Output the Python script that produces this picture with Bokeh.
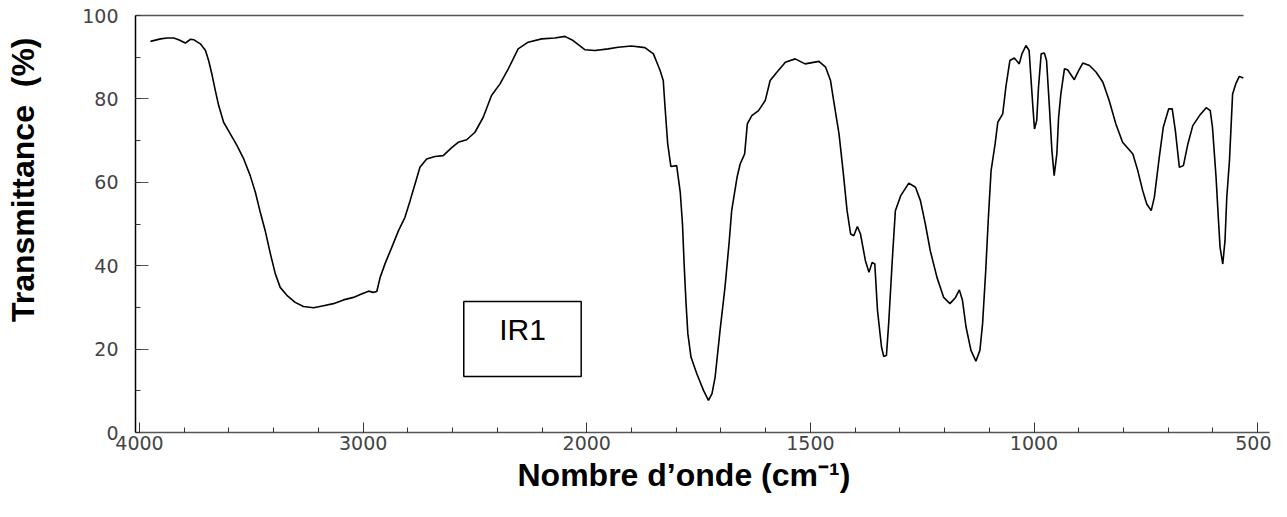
import numpy as np
from bokeh.plotting import figure
from bokeh.models import Range1d, LinearAxis, FixedTicker, Label, BoxAnnotation, Title
from bokeh.embed import file_html
from bokeh.resources import INLINE

# ---- data ----
wavenumber = [
    3951, 3906, 3876, 3847, 3825, 3795, 3772, 3758, 3728, 3705, 3691, 3675, 3661, 3646,
    3624, 3594, 3564, 3534, 3505, 3482, 3460, 3438, 3415, 3393, 3371, 3341, 3304, 3267,
    3222, 3177, 3133, 3088, 3043, 3013, 2976, 2955, 2939, 2924, 2902, 2872, 2842, 2813,
    2790, 2768, 2746, 2716, 2679, 2642, 2604, 2575, 2537, 2500, 2463, 2426, 2388, 2351,
    2307, 2262, 2202, 2143, 2098, 2061, 2009, 1982, 1952, 1930, 1900, 1870, 1851, 1836,
    1829, 1825, 1819, 1812, 1799, 1791, 1786, 1782, 1778, 1774, 1767, 1754, 1739, 1728,
    1720, 1713, 1702, 1691, 1682, 1676, 1664, 1657, 1647, 1641, 1631, 1616, 1601, 1590,
    1575, 1556, 1534, 1512, 1481, 1466, 1455, 1448, 1436, 1427, 1418, 1410, 1403, 1395,
    1388, 1377, 1369, 1362, 1356, 1350, 1341, 1336, 1330, 1325, 1317, 1310, 1298, 1280,
    1265, 1254, 1243, 1232, 1217, 1202, 1188, 1176, 1167, 1160, 1152, 1141, 1130, 1121,
    1115, 1108, 1102, 1096, 1087, 1081, 1070, 1063, 1054, 1044, 1033, 1027, 1018, 1011,
    1007, 1003, 999, 994, 990, 984, 977, 972, 966, 960, 955, 949, 945, 940, 932, 925,
    910, 902, 891, 876, 861, 846, 832, 817, 802, 779, 768, 757, 748, 738, 731, 720, 711,
    699, 691, 684, 675, 666, 656, 645, 630, 615, 606, 601, 593, 588, 584, 578, 573, 569,
    563, 556, 549, 541, 532,
]
transmittance = [
    93.8, 94.4, 94.6, 94.6, 94.2, 93.4, 94.3, 94.2, 93.2, 91.6, 89.2, 85.6, 82.0, 78.4,
    74.4, 71.6, 68.8, 65.6, 61.6, 57.6, 52.8, 48.4, 42.9, 38.1, 34.8, 32.9, 31.2, 30.2,
    29.9, 30.4, 30.9, 31.8, 32.4, 33.1, 33.9, 33.6, 33.8, 37.2, 40.5, 44.4, 48.4, 51.6,
    55.6, 59.6, 63.6, 65.6, 66.2, 66.4, 68.3, 69.6, 70.2, 72.0, 75.6, 80.8, 83.6, 87.2,
    92.0, 93.6, 94.4, 94.6, 95.0, 94.0, 91.8, 91.6, 92.0, 92.4, 92.7, 92.3, 90.8, 86.8,
    84.4, 78.0, 69.2, 63.8, 64.0, 57.6, 50.0, 39.6, 30.9, 23.7, 18.1, 14.1, 10.1, 7.7,
    9.3, 13.3, 24.5, 34.8, 45.2, 53.2, 61.2, 64.4, 66.8, 74.0, 76.0, 77.2, 79.6, 84.4,
    86.4, 88.8, 89.6, 88.4, 89.0, 87.6, 84.4, 79.6, 71.6, 62.8, 53.2, 47.6, 47.2, 49.4,
    47.6, 41.2, 38.4, 40.8, 40.4, 29.3, 20.5, 18.2, 18.5, 26.1, 41.2, 53.2, 56.8, 59.8,
    58.8, 55.6, 50.0, 43.6, 37.2, 32.4, 30.9, 32.3, 34.2, 31.7, 25.3, 19.7, 17.1, 19.7,
    26.1, 38.8, 51.6, 62.8, 69.2, 74.4, 76.4, 82.8, 89.2, 89.8, 88.4, 90.8, 92.8, 91.6,
    85.2, 78.8, 72.8, 74.8, 82.8, 90.8, 91.0, 89.2, 78.8, 67.6, 61.6, 66.8, 75.6, 81.2, 87.2, 87.0,
    84.6, 86.4, 88.6, 88.0, 86.4, 84.0, 79.6, 74.0, 69.6, 66.8, 62.8, 58.0, 54.8, 53.2, 56.4, 66.0, 73.2,
    77.6, 77.6, 72.4, 63.6, 64.0, 69.2, 73.6, 76.0, 77.9, 77.2, 73.2, 61.2, 51.6, 44.4, 40.4, 46.0, 56.4,
    65.2, 81.2, 83.6, 85.4, 85.0,
]
x_tick_labels = [4000, 3000, 2000, 1500, 1000, 500]
x_minor_ticks = list(range(4000, 2000, -200)) + list(range(2000, 499, -100))
y_tick_values = [0, 20, 40, 60, 80, 100]
y_minor_ticks = list(range(0, 101, 10))
x_title = "Nombre d\u2019onde (cm\u207b\u00b9)"
y_title = "Transmittance\u00a0 (%)"
box_text = "IR1"

# IR spectra: the scale doubles below 2000 cm-1
BREAK = 2000.0


def to_axis(w):
    w = np.asarray(w, dtype=float)
    return np.where(w >= BREAK, 4000.0 - w, BREAK + 2.0 * (BREAK - w))


xs = to_axis(wavenumber)
x_start = float(to_axis(4018))
x_end = float(to_axis(473.5))

p = figure(width=1271, height=501, output_backend="svg", toolbar_location=None,
           x_range=Range1d(x_start, x_end), y_range=Range1d(0, 100),
           min_border_left=135, min_border_right=2, min_border_top=15, min_border_bottom=69)
p.outline_line_color = None
p.xgrid.visible = False
p.ygrid.visible = False
p.background_fill_color = "white"

p.line(xs, transmittance, line_color="black", line_width=1.6)

# x axis
major_u = [float(v) for v in to_axis(x_tick_labels)]
p.xaxis.ticker = FixedTicker(ticks=major_u, minor_ticks=[float(v) for v in to_axis(x_minor_ticks)])
p.xaxis.major_label_overrides = {int(round(u)): str(l) for u, l in zip(major_u, x_tick_labels)}
p.xaxis.axis_line_color = "#555555"
p.xaxis.axis_line_width = 1.5
p.xaxis.major_tick_in = 10
p.xaxis.major_tick_out = 0
p.xaxis.minor_tick_in = 5
p.xaxis.minor_tick_out = 0
p.xaxis.major_tick_line_color = "#333333"
p.xaxis.minor_tick_line_color = "#333333"
p.xaxis.major_label_text_font = "DejaVu Sans"
p.xaxis.major_label_text_font_size = "19px"
p.xaxis.major_label_text_color = "#444444"
p.xaxis.major_label_standoff = 3

# y axis
p.yaxis.ticker = FixedTicker(ticks=y_tick_values, minor_ticks=y_minor_ticks)
p.yaxis.axis_line_color = "black"
p.yaxis.axis_line_width = 1.5
p.yaxis.major_tick_in = 13
p.yaxis.major_tick_out = 0
p.yaxis.minor_tick_in = 5
p.yaxis.minor_tick_out = 0
p.yaxis.major_tick_line_color = "#555555"
p.yaxis.minor_tick_line_color = "#333333"
p.yaxis.major_label_text_font = "DejaVu Sans"
p.yaxis.major_label_text_font_size = "19px"
p.yaxis.major_label_text_color = "#444444"
p.yaxis.major_label_standoff = 17

# top border line (ends where the spectrum ends)
p.add_layout(LinearAxis(bounds=(x_start, float(to_axis(wavenumber[-1]))),
                        ticker=FixedTicker(ticks=[]), major_tick_in=0, major_tick_out=0,
                        minor_tick_in=0, minor_tick_out=0, major_label_text_font_size="0px",
                        axis_line_color="#555555", axis_line_width=1.5), "above")

# blank spacer panel between the y tick labels and the y title
p.add_layout(Title(text=" ", text_font_size="4px", standoff=32), "left")

title_style = dict(text_font="Liberation Sans", text_font_style="bold",
                   text_font_size="32px", text_color="black")
p.add_layout(Title(text=y_title, align="right", offset=22, standoff=0, **title_style), "left")
p.add_layout(Title(text=x_title, align="left", offset=382, standoff=4, **title_style), "below")

# IR1 box
p.add_layout(BoxAnnotation(left=float(to_axis(2550)), right=float(to_axis(2025)),
                           bottom=13.4, top=31.4, fill_alpha=0, line_alpha=1.0,
                           line_color="black", line_width=1.5))
p.add_layout(Label(x=float(to_axis(2287)), y=24.6, text=box_text, text_align="center",
                   text_baseline="middle", text_font="Liberation Sans",
                   text_font_size="30px", text_color="black"))

open("out.html", "w").write(file_html(p, INLINE))
